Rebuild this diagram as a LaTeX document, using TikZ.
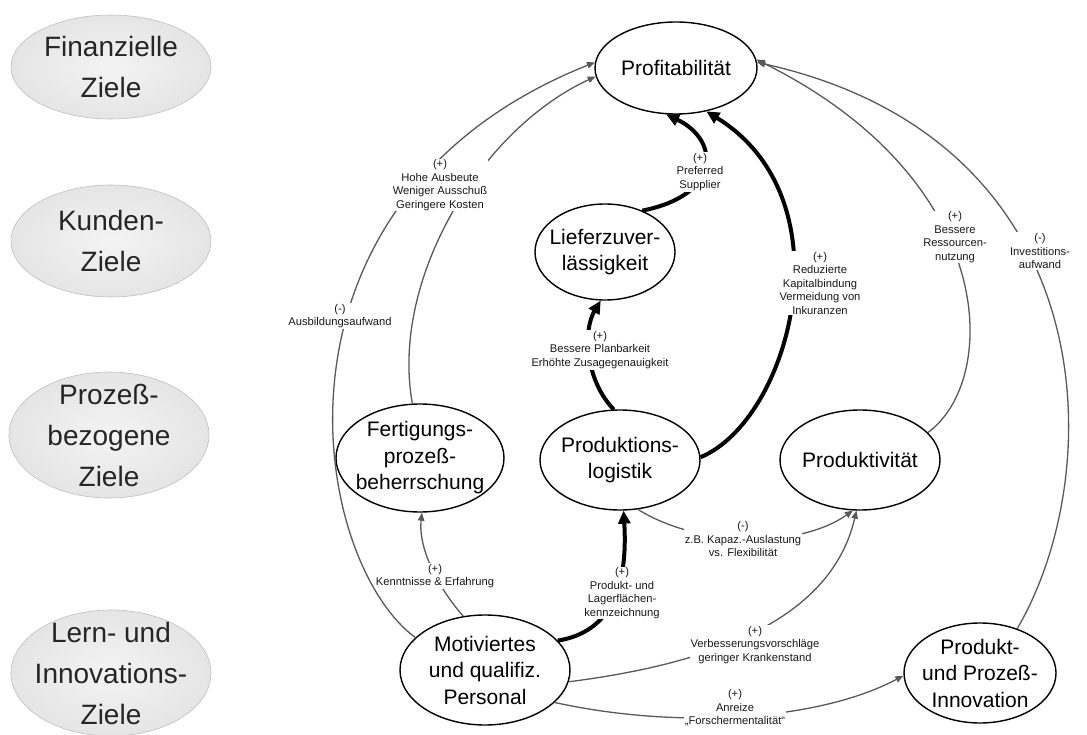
\documentclass[tikz,border=0pt]{standalone}
\usepackage{fontspec}
\setmainfont{Liberation Sans}
\usetikzlibrary{shapes.geometric,arrows.meta}
% soft grey fill of the perspective ellipses: light centre, darker rim
\pgfdeclareradialshading{goalshade}{\pgfpoint{0bp}{0bp}}{color(0bp)=(gray!9); color(24bp)=(gray!20); color(40bp)=(gray!32); color(50bp)=(gray!52)}
\begin{document}
\begin{tikzpicture}[x=1pt,y=1pt,
  goal/.style={ellipse, shade, shading=goalshade, draw=gray!50, line width=0.6pt,
    inner sep=0pt, minimum width=200pt},
  goaltext/.style={font=\fontsize{28}{41}\selectfont, align=center, text=black!85},
  kpi/.style={ellipse, draw=black, line width=1.4pt, fill=white, inner sep=0pt},
  kpitext/.style={font=\fontsize{21}{26.5}\selectfont, align=center},
  link/.style={draw=black!65, line width=1.3pt, -{Triangle[length=8pt,width=6.5pt]}},
  strong/.style={draw=black, line width=4pt, -{Triangle[length=13pt,width=12pt]}},
  lbl/.style={font=\fontsize{11.2}{13.5}\selectfont, align=center, fill=white,
    inner sep=1pt, text=black!90}]
\useasboundingbox (0,0) rectangle (1087,-735);

% perspectives of the scorecard
\node[goal, minimum height=104pt] (fin)  at (111,-67)  {};
\node[goaltext] (fin-t)  at (fin)  {Finanzielle\\Ziele};
\node[goal, minimum height=112pt] (kund) at (111,-241) {};
\node[goaltext] (kund-t) at (kund) {Kunden-\\Ziele};
\node[goal, minimum height=126pt] (proz) at (109,-435) {};
\node[goaltext] (proz-t) at (proz) {Prozeß-\\bezogene\\Ziele};
\node[goal, minimum height=126pt] (lern) at (111,-673) {};
\node[goaltext] (lern-t) at (lern) {Lern- und\\Innovations-\\Ziele};

% goals
\node[kpi, minimum width=162pt, minimum height=92pt]  (prof)  at (676,-68)  {};
\node[kpitext] (prof-t)  at (prof)  {Profitabilität};
\node[kpi, minimum width=140pt, minimum height=96pt]  (lief)  at (605,-252) {};
\node[kpitext] (lief-t)  at (lief)  {Lieferzuver-\\lässigkeit};
\node[kpi, minimum width=168pt, minimum height=108pt] (fert)  at (420,-458) {};
\node[kpitext] (fert-t)  at (fert)  {Fertigungs-\\prozeß-\\beherrschung};
\node[kpi, minimum width=160pt, minimum height=100pt] (plog)  at (620,-460) {};
\node[kpitext] (plog-t)  at (plog)  {Produktions-\\logistik};
\node[kpi, minimum width=160pt, minimum height=100pt] (prodv) at (860,-460) {};
\node[kpitext] (prodv-t) at (prodv) {Produktivität};
\node[kpi, minimum width=170pt, minimum height=110pt] (pers)  at (485,-670) {};
\node[kpitext] (pers-t)  at (pers)  {Motiviertes\\und qualifiz.\\Personal};
\node[kpi, minimum width=152pt, minimum height=100pt] (innov) at (980,-673) {};
\node[kpitext] (innov-t) at (innov) {Produkt-\\und Prozeß-\\Innovation};

% strong cause-effect links
\draw[strong] (lief.48) .. controls (722,-195) and (720,-140) .. (prof.258);
\draw[strong] (plog.2) .. controls (790,-420) and (850,-200) .. (prof.305);
\draw[strong] (plog.97) .. controls (585,-380) and (583,-330) .. (lief.265);
\draw[strong] (pers.22) .. controls (612,-632) and (628,-585) .. (plog.274);

% weaker links
\draw[link] (pers.112) .. controls (440,-590) and (418,-550) .. (fert.272);
\draw[link] (fert.98) .. controls (390,-280) and (480,-130) .. (prof.186);
\draw[link] (pers.155) .. controls (310,-560) and (250,-200) .. (prof.176);
\draw[link] (prodv.22) .. controls (1000,-380) and (1000,-180) .. (prof.6);
\draw[link] (innov.50) .. controls (1110,-470) and (1105,-140) .. (prof.4);
\draw[link] (plog.290) .. controls (700,-548) and (800,-548) .. (prodv.262);
\draw[link] (pers.-8) .. controls (700,-665) and (830,-625) .. (prodv.266);
\draw[link] (pers.-25) .. controls (680,-730) and (820,-720) .. (innov.182);

% link labels
\node[lbl] (l1)  at (700,-172)  {(+)\\Preferred\\Supplier};
\node[lbl] (l2)  at (820,-283)  {(+)\\Reduzierte\\Kapitalbindung\\Vermeidung von\\Inkuranzen};
\node[lbl] (l3)  at (600,-350)  {(+)\\Bessere Planbarkeit\\Erhöhte Zusagegenauigkeit};
\node[lbl] (l4)  at (440,-185)  {(+)\\Hohe Ausbeute\\Weniger Ausschuß\\Geringere Kosten};
\node[lbl] (l5)  at (340,-316)  {(-)\\Ausbildungsaufwand};
\node[lbl] (l6)  at (955,-237)  {(+)\\Bessere\\Ressourcen-\\nutzung};
\node[lbl] (l7)  at (1040,-251) {(-)\\Investitions-\\aufwand};
\node[lbl] (l8)  at (435,-576)  {(+)\\Kenntnisse \& Erfahrung};
\node[lbl] (l9)  at (622,-593)  {(+)\\Produkt- und\\Lagerflächen-\\kennzeichnung};
\node[lbl] (l10) at (743,-539)  {(-)\\z.B. Kapaz.-Auslastung\\vs. Flexibilität};
\node[lbl] (l11) at (755,-645)  {(+)\\Verbesserungsvorschläge\\geringer Krankenstand};
\node[lbl] (l12) at (735,-708)  {(+)\\Anreize\\„Forschermentalität“};
\end{tikzpicture}
\end{document}
